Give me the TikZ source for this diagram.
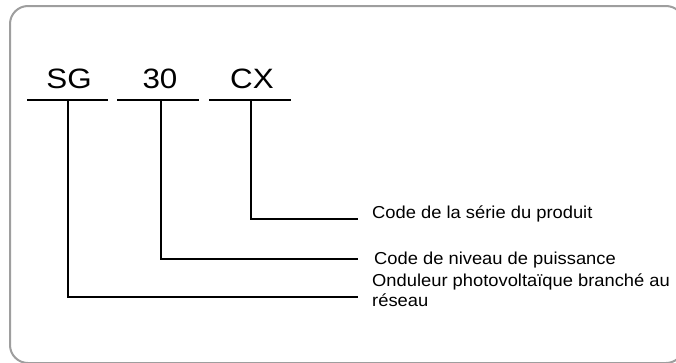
\documentclass[tikz,border=0pt]{standalone}
\usepackage{fontspec}
\setmainfont{Liberation Sans}
\begin{document}
\begin{tikzpicture}[x=1pt,y=-1pt,
  big/.style={font=\fontsize{28}{32}\selectfont, anchor=base, inner sep=0pt, xscale=1.12},
  lab/.style={font=\fontsize{17.3}{19.5}\selectfont, anchor=west, inner sep=0pt, xscale=1.06, align=left},
  ln/.style={line width=1.8pt, black},
  frame/.style={draw=black!38, line width=2pt, rounded corners=18pt}]
\useasboundingbox (0,0) rectangle (676,362);
\begin{scope}
\clip (0,0) rectangle (676,362);
\draw[frame] (10,6) rectangle (684,363);
\end{scope}
% codes
\node[big] (sg) at (69,88) {SG};
\node[big] (n30) at (160,88) {30};
\node[big] (cx) at (252,88) {CX};
% underlines
\coordinate (sgL) at (27,100); \coordinate (sgR) at (108,100);
\coordinate (n30L) at (117,100); \coordinate (n30R) at (199,100);
\coordinate (cxL) at (209,100); \coordinate (cxR) at (291,100);
\draw[ln] (sgL) -- (sgR);
\draw[ln] (n30L) -- (n30R);
\draw[ln] (cxL) -- (cxR);
% labels
\node[lab] (l1) at (372,214) {Code de la série du produit};
\node[lab] (l2) at (374,260) {Code de niveau de puissance};
\node[lab] (l3) at (372,290) {Onduleur photovoltaïque branché au\\réseau};
% connectors
\coordinate (sgT) at (68,100); \coordinate (sgE) at (358,297);
\coordinate (n30T) at (161,100); \coordinate (n30E) at (358,259);
\coordinate (cxT) at (251,100); \coordinate (cxE) at (358,219);
\draw[ln] (sgT) |- (sgE);
\draw[ln] (n30T) |- (n30E);
\draw[ln] (cxT) |- (cxE);
\end{tikzpicture}
\end{document}
